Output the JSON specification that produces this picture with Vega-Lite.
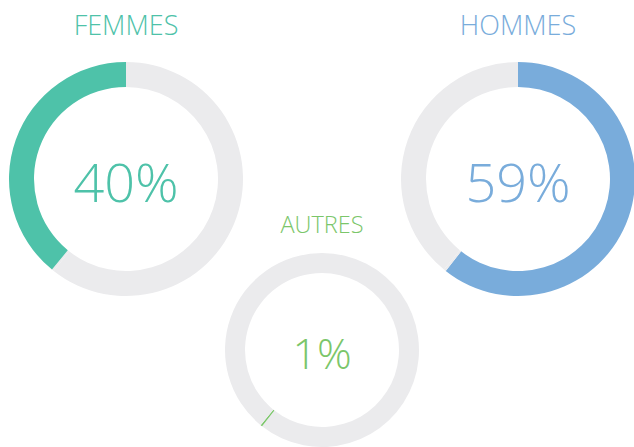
{
  "$schema": "https://vega.github.io/schema/vega-lite/v6.json",
  "width": 634,
  "height": 447,
  "autosize": {"type": "fit", "contains": "padding"},
  "padding": 0,
  "background": "white",
  "config": {"view": {"stroke": null}},
  "datasets": {
    "parts": [
      {"donut": "FEMMES", "segment": "HOMMES", "valeur": 60.6},
      {"donut": "FEMMES", "segment": "AUTRES", "valeur": 0.3},
      {"donut": "FEMMES", "segment": "FEMMES", "valeur": 39.1},
      {"donut": "HOMMES", "segment": "HOMMES", "valeur": 60.6},
      {"donut": "HOMMES", "segment": "AUTRES", "valeur": 0.3},
      {"donut": "HOMMES", "segment": "FEMMES", "valeur": 39.1},
      {"donut": "AUTRES", "segment": "HOMMES", "valeur": 60.6},
      {"donut": "AUTRES", "segment": "AUTRES", "valeur": 0.3},
      {"donut": "AUTRES", "segment": "FEMMES", "valeur": 39.1}
    ],
    "etiquettes": [
      {"donut": "FEMMES", "pourcentage": 0.40},
      {"donut": "HOMMES", "pourcentage": 0.59},
      {"donut": "AUTRES", "pourcentage": 0.01}
    ]
  },
  "encoding": {
    "x": {"field": "donut", "type": "nominal", "axis": null,
      "scale": {"type": "point", "domain": ["FEMMES", "AUTRES", "HOMMES"], "range": [126, 518], "padding": 0}},
    "y": {"field": "rangee", "type": "nominal", "axis": null,
      "scale": {"type": "point", "domain": ["haut", "bas"], "range": [179, 350], "padding": 0}}
  },
  "layer": [
    {
      "data": {"name": "parts"},
      "transform": [
        {"filter": "datum.donut !== 'AUTRES'"},
        {"calculate": "datum.donut === 'AUTRES' ? 'bas' : 'haut'", "as": "rangee"},
        {"stack": "valeur", "groupby": ["donut"], "as": ["debut", "fin"]}
      ],
      "mark": {"type": "arc", "outerRadius": 117, "innerRadius": 92},
      "encoding": {
        "theta": {"field": "debut", "type": "quantitative", "scale": {"domain": [0, 100], "range": [0, 6.283185307]}},
        "theta2": {"field": "fin"},
        "color": {
          "condition": {"test": "datum.segment === datum.donut", "field": "donut", "type": "nominal",
            "scale": {"domain": ["FEMMES", "AUTRES", "HOMMES"], "range": ["#4EC2A9", "#7BC66A", "#79ACDB"]}, "legend": null},
          "value": "#EBEBED"
        }
      }
    },
    {
      "data": {"name": "parts"},
      "transform": [
        {"filter": "datum.donut === 'AUTRES'"},
        {"calculate": "datum.donut === 'AUTRES' ? 'bas' : 'haut'", "as": "rangee"},
        {"stack": "valeur", "groupby": ["donut"], "as": ["debut", "fin"]}
      ],
      "mark": {"type": "arc", "outerRadius": 97, "innerRadius": 77},
      "encoding": {
        "theta": {"field": "debut", "type": "quantitative", "scale": {"domain": [0, 100], "range": [0, 6.283185307]}},
        "theta2": {"field": "fin"},
        "color": {
          "condition": {"test": "datum.segment === datum.donut", "field": "donut", "type": "nominal", "legend": null},
          "value": "#EBEBED"
        }
      }
    },
    {
      "data": {"name": "etiquettes"},
      "transform": [
        {"filter": "datum.donut !== 'AUTRES'"},
        {"calculate": "datum.donut === 'AUTRES' ? 'bas' : 'haut'", "as": "rangee"}
      ],
      "mark": {"type": "text", "font": "Open Sans", "fontSize": 27, "fontWeight": 300, "baseline": "alphabetic", "align": "center", "dy": -144},
      "encoding": {
        "text": {"field": "donut"},
        "color": {"field": "donut", "type": "nominal", "legend": null}
      }
    },
    {
      "data": {"name": "etiquettes"},
      "transform": [
        {"filter": "datum.donut === 'AUTRES'"},
        {"calculate": "datum.donut === 'AUTRES' ? 'bas' : 'haut'", "as": "rangee"}
      ],
      "mark": {"type": "text", "font": "Open Sans", "fontSize": 23.5, "fontWeight": 300, "baseline": "alphabetic", "align": "center", "dy": -117},
      "encoding": {
        "text": {"field": "donut"},
        "color": {"field": "donut", "type": "nominal", "legend": null}
      }
    },
    {
      "data": {"name": "etiquettes"},
      "transform": [
        {"filter": "datum.donut !== 'AUTRES'"},
        {"calculate": "datum.donut === 'AUTRES' ? 'bas' : 'haut'", "as": "rangee"}
      ],
      "mark": {"type": "text", "font": "Open Sans", "fontSize": 54, "fontWeight": 300, "baseline": "alphabetic", "align": "center", "dy": 23},
      "encoding": {
        "text": {"field": "pourcentage", "type": "quantitative", "format": ".0%"},
        "color": {"field": "donut", "type": "nominal", "legend": null}
      }
    },
    {
      "data": {"name": "etiquettes"},
      "transform": [
        {"filter": "datum.donut === 'AUTRES'"},
        {"calculate": "datum.donut === 'AUTRES' ? 'bas' : 'haut'", "as": "rangee"}
      ],
      "mark": {"type": "text", "font": "Open Sans", "fontSize": 43, "fontWeight": 300, "baseline": "alphabetic", "align": "center", "dy": 19},
      "encoding": {
        "text": {"field": "pourcentage", "type": "quantitative", "format": ".0%"},
        "color": {"field": "donut", "type": "nominal", "legend": null}
      }
    }
  ]
}
